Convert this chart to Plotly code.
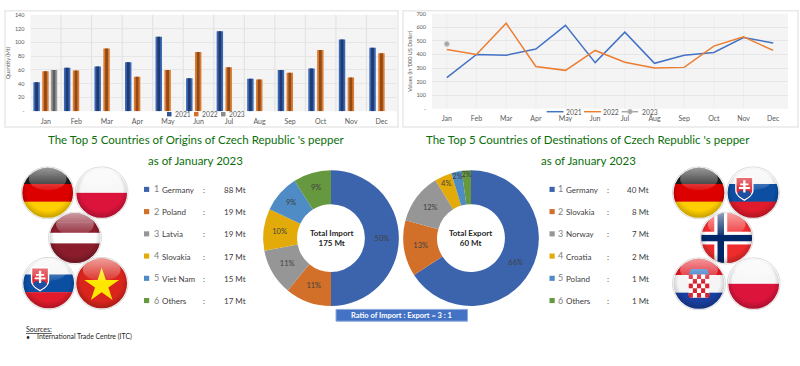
import base64
import plotly.graph_objects as go

months = ["Jan","Feb","Mar","Apr","May","Jun","Jul","Aug","Sep","Oct","Nov","Dec"]
qty_2021 = [42,63,65,71,108,48,116,47,60,62,104,92]
qty_2022 = [58,59,91,50,60,86,64,46,56,89,49,84]
qty_2023 = [60]
val_2021 = [230,400,395,440,615,340,565,335,395,415,525,485]
val_2022 = [437,400,630,312,283,430,343,300,305,462,530,430]
val_2023 = [478]
origin_names = ["Germany","Poland","Latvia","Slovakia","Viet Nam","Others"]
origin_mt = [88,19,19,17,15,17]
origin_share = [50,11,11,10,9,9]
dest_names = ["Germany","Slovakia","Norway","Croatia","Poland","Others"]
dest_mt = [40,8,7,2,1,1]
dest_share = [66,13.4,12,4.1,2.5,2.2]
dest_labels = ["66%","13%","12%","4%","2%","2%"]
origin_labels = ["50%","11%","11%","10%","9%","9%"]

W, H = 800, 366
BLUE, ORANGE, GRAY, YELLOW, LBLUE, GREEN = "#3c64ad","#d2702a","#969696","#e3ab0a","#4f8bc4","#66993f"
PIE = [BLUE, ORANGE, GRAY, YELLOW, LBLUE, GREEN]
TXT = "#595959"
FONT = "Lato, 'Open Sans', sans-serif"

def px(x): return x / W
def py(y): return 1 - y / H

fig = go.Figure()
bar_series = [("2021", qty_2021, "#3a66b5", "#1f3a6e", -0.30),
              ("2022", qty_2022, "#dc7a30", "#8f4a18", -0.01),
              ("2023", qty_2023, "#9a9a9a", "#5f5f5f", 0.27)]
for name, vals, c, d, off in bar_series:
    xs = months[:len(vals)]
    fig.add_bar(x=xs, y=vals, name=name, width=0.21, offset=off - 0.105, marker_color=c,
                marker_line_width=0, xaxis="x", yaxis="y", showlegend=False)
    fig.add_bar(x=xs, y=vals, showlegend=False, width=0.09, offset=off - 0.045, marker_color=d,
                marker_line_width=0, xaxis="x", yaxis="y", hoverinfo="skip")
fig.add_scatter(x=months, y=val_2021, name="2021", mode="lines", line=dict(color="#4472c4", width=1.5),
                xaxis="x2", yaxis="y2", showlegend=False)
fig.add_scatter(x=months, y=val_2022, name="2022", mode="lines", line=dict(color="#ed7d31", width=1.5),
                xaxis="x2", yaxis="y2", showlegend=False)
fig.add_scatter(x=months[:1], y=val_2023, name="2023", mode="lines+markers",
                line=dict(color="#a5a5a5", width=1.5), marker=dict(color="#a5a5a5", size=5, line=dict(color="#c9c9c9", width=1)),
                xaxis="x2", yaxis="y2", showlegend=False)

def donut(vals, labels, x0, x1, y0, y1):
    fig.add_pie(values=vals, text=labels, textinfo="text", sort=False, direction="clockwise", rotation=0,
                hole=0.5, marker=dict(colors=PIE, line=dict(width=0)), showlegend=False,
                textposition="inside", insidetextorientation="horizontal",
                textfont=dict(size=7.5, color="#404040", family=FONT),
                domain=dict(x=[px(x0), px(x1)], y=[py(y1), py(y0)]))
donut(origin_share, origin_labels, 262, 400, 170, 308)
donut(dest_share, dest_labels, 402, 540, 170, 308)

shapes, annos, images = [], [], []
def text(x, y, s, size=8, color=TXT, anchor="left", bold=False):
    if bold: s = f"<b>{s}</b>"
    annos.append(dict(x=px(x), y=py(y), xref="paper", yref="paper", text=s, showarrow=False,
                      xanchor=anchor, yanchor="middle", align=anchor,
                      font=dict(size=size, color=color, family=FONT), borderpad=0))
def rect(x0, y0, x1, y1, fill="rgba(0,0,0,0)", line="rgba(0,0,0,0)", w=1, layer="above"):
    shapes.append(dict(type="rect", xref="paper", yref="paper", x0=px(x0), x1=px(x1), y0=py(y0), y1=py(y1),
                       fillcolor=fill, line=dict(color=line, width=w), layer=layer))
def hline(x0, x1, y, color):
    shapes.append(dict(type="line", xref="paper", yref="paper", x0=px(x0), x1=px(x1), y0=py(y), y1=py(y),
                       line=dict(color=color, width=1.5)))

rect(5, 8, 398, 126, line="#e9e9e9", w=1.5, layer="below")
rect(403, 8, 798, 126, line="#e9e9e9", w=1.5, layer="below")

for xs_, xt, lab, col in [(167, 173.5, "2021", "#2f5597"), (194, 200.5, "2022", "#d2702a"), (221, 227.5, "2023", "#8c8c8c")]:
    rect(xs_, 110.8, xs_ + 4.5, 115.3, fill=col)
    text(xt, 113, lab, 6.8)
for x0, x1, xt, lab, col in [(546.7, 563.5, 564.5, "2021", "#4472c4"), (584, 601, 602, "2022", "#ed7d31"),
                             (621.7, 638, 640.5, "2023", "#a5a5a5")]:
    hline(x0, x1, 110.5, col)
    text(xt, 110.5, lab, 6.8)
shapes.append(dict(type="circle", xref="paper", yref="paper", x0=px(627.5), x1=px(632.5), y0=py(108), y1=py(113),
                   fillcolor="#a5a5a5", line=dict(color="#c9c9c9", width=1)))

GREEN_T = "#0b6e0b"
text(195.5, 139, "The Top 5 Countries of Origins of Czech Republic 's pepper", 11.5, GREEN_T, "center")
text(195, 160, "as of January 2023", 11.5, GREEN_T, "center")
text(588, 139, "The Top 5 Countries of Destinations of Czech Republic 's pepper", 11.5, GREEN_T, "center")
text(588, 160, "as of January 2023", 11.5, GREEN_T, "center")

def table(names, mts, xs, xn, xname, xcolon, xval):
    for i, (n, m) in enumerate(zip(names, mts)):
        y = 189.5 + i * 22.6
        rect(xs, y - 2.6, xs + 5.2, y + 2.6, fill=PIE[i])
        text(xn, y - 0.5, str(i + 1), 9, "#7f7f7f")
        text(xname, y + 0.5, n, 8, "#404040")
        text(xcolon, y + 0.5, ":", 8, "#404040", "center")
        text(xval, y + 0.5, f"{m} Mt", 8, "#404040", "right")
table(origin_names, origin_mt, 144, 152.5, 160.5, 204, 247)
table(dest_names, dest_mt, 549.5, 557, 565, 608, 650)

text(331, 239, "<b>Total Import</b><br><b>175 Mt</b>", 8, "#262626", "center")
text(470.7, 239, "<b>Total Export</b><br><b>60 Mt</b>", 8, "#262626", "center")

rect(336, 311.5, 467.5, 323.5, fill="#4472c4", line="#8faadc", w=1)
text(401.5, 317.5, "Ratio of Import : Export = 3 : 1", 7.5, "#ffffff", "center", True)

text(25, 331, "<u>Sources:</u>", 7, "#262626")
text(25, 339.5, "•", 7, "#262626")
text(36, 339.5, "International Trade Centre (ITC)", 6.9, "#262626")

GLOSS = ('<defs><clipPath id="c"><circle cx="50" cy="50" r="47"/></clipPath>'
         '<radialGradient id="s" cx="50%" cy="45%" r="55%"><stop offset="70%" stop-color="#000" stop-opacity="0"/>'
         '<stop offset="100%" stop-color="#000" stop-opacity=".28"/></radialGradient>'
         '<linearGradient id="g" x1="0" y1="0" x2="0" y2="1"><stop offset="0" stop-color="#fff" stop-opacity=".55"/>'
         '<stop offset="1" stop-color="#fff" stop-opacity=".08"/></linearGradient></defs>')
def stripes(*cols):
    n = len(cols)
    return "".join(f'<rect x="0" y="{i*100/n}" width="100" height="{100/n+.5}" fill="{c}"/>' for i, c in enumerate(cols))
def shield(cx, cy, s):
    return (f'<g transform="translate({cx},{cy}) scale({s})">'
            '<path d="M-20-24H20V6C20 18 8 24 0 30C-8 24-20 18-20 6Z" fill="#fff"/>'
            '<path d="M-17-21H17V6C17 16 7 22 0 26C-7 22-17 16-17 6Z" fill="#dc2a33"/>'
            '<path d="M-15 15C-10 4-6 6-4 9C-2 3 2 3 4 9C6 6 10 4 15 15C9 22 4 24 0 26C-4 24-9 22-15 15Z" fill="#1d4fa3"/>'
            '<path d="M-2.500-16H2.500V-9H9V-5H2.500V-1H12V3H2.500V11H-2.500V3H-12V-1H-2.500V-5H-9V-9H-2.500Z" fill="#fff"/></g>')
def checker():
    out = '<rect x="31" y="32" width="38" height="44" rx="6" fill="#fff"/>'
    for r in range(5):
        for c in range(5):
            if (r + c) % 2 == 0:
                out += f'<rect x="{31+c*7.6}" y="{32+r*8.8}" width="7.6" height="8.8" fill="#d8232f"/>'
    return out
FLAGS = {
 "de": stripes("#1a1a1a", "#dd0000", "#ffce00"),
 "pl": stripes("#f7f7f7", "#dc143c"),
 "lv": stripes("#8a1c2c", "#8a1c2c", "#ffffff", "#8a1c2c", "#8a1c2c"),
 "sk": stripes("#f5f5f5", "#0b4ea2", "#e11b2b") + shield(34, 40, 0.85),
 "vn": '<rect width="100" height="100" fill="#da251d"/><path d="M50 20L57.600 43.500H82.300L62.400 58L70 81.500L50 67L30 81.500L37.600 58L17.700 43.500H42.400Z" fill="#ffe800"/>',
 "no": '<rect width="100" height="100" fill="#ef2b2d"/><rect x="27" width="24" height="100" fill="#fff"/><rect y="38" width="100" height="24" fill="#fff"/>'
       '<rect x="33" width="12" height="100" fill="#002868"/><rect y="44" width="100" height="12" fill="#002868"/>',
 "hr": stripes("#e1141e", "#f5f5f5", "#1a3fa0") + checker() +
       '<path d="M31 32L35 22H65L69 32Z" fill="#2e76c8"/>',
}
def flag(code, cx, cy, r=27):
    svg = ('<svg xmlns="http://www.w3.org/2000/svg" width="200" height="200" viewBox="0 0 100 100">' + GLOSS +
           '<circle cx="50" cy="50" r="49" fill="#fff" stroke="#cfcfcf" stroke-width="1.500"/>'
           f'<g clip-path="url(#c)">{FLAGS[code]}<rect width="100" height="100" fill="url(#s)"/></g>'
           '<ellipse cx="50" cy="24" rx="35" ry="21" fill="url(#g)"/></svg>')
    uri = "data:image/svg+xml;base64," + base64.b64encode(svg.encode()).decode()
    images.append(dict(source=uri, xref="paper", yref="paper", x=px(cx - r), y=py(cy - r),
                       sizex=2 * r / W, sizey=2 * r / H, xanchor="left", yanchor="top",
                       sizing="stretch", layer="above"))
for code, cx, cy in [("de",47.7,193),("pl",101.7,193),("lv",75,239),("sk",48.7,285),("vn",101.7,285),
                     ("de",699,193),("sk",753,193),("no",726.7,239),("hr",699,285.5),("pl",753.7,285.5)]:
    flag(code, cx, cy)

def xa(x0, x1, standoff):
    return dict(domain=[px(x0), px(x1)], type="category", categoryorder="array", categoryarray=months,
                tickfont=dict(size=7, color=TXT, family=FONT), showgrid=False,
                showline=False, ticks="", zeroline=False, range=[-0.5, 11.5], ticklabelstandoff=standoff)
def ya(y0, y1, top, step, title):
    vals = list(range(0, top + 1, step))
    return dict(domain=[py(y1), py(y0)], range=[0, top], tickvals=vals,
                ticktext=["-"] + [str(v) for v in vals[1:]], ticklabelstandoff=5,
                tickfont=dict(size=5.5, color=TXT, family=FONT), showgrid=True, gridcolor="#e6e6e6", zeroline=False,
                title=dict(text=title, font=dict(size=5.5, color=TXT, family=FONT), standoff=3))
fig.update_layout(
    width=W, height=H, margin=dict(l=0, r=0, t=0, b=0), paper_bgcolor="#ffffff", plot_bgcolor="#f4f4f4",
    barmode="overlay", font=dict(family=FONT), shapes=shapes, annotations=annos, images=images,
    xaxis=xa(30.5, 397, 5), yaxis=ya(12, 110, 140, 20, "Quantity (Mt)"),
    xaxis2=xa(432, 788, 4), yaxis2=dict(ya(11, 107.5, 700, 100, "Values (in '000 US Dollar)"), anchor="x2"),
    uniformtext=dict(minsize=7.5, mode="show"),
)
fig.layout.xaxis2.anchor = "y2"
for i in range(1, 12):
    fig.add_shape(type="line", xref="x domain", yref="y domain", x0=i / 12, x1=i / 12, y0=0, y1=1,
                  line=dict(color="#e0e0e0", width=1), layer="below")
    fig.add_shape(type="line", xref="x2 domain", yref="y2 domain", x0=(i - 0.5) / 12, x1=(i - 0.5) / 12, y0=0, y1=1,
                  line=dict(color="#ededed", width=1), layer="below")
fig.write_html("out.html", config=dict(displayModeBar=False),
               post_script="document.body.style.margin='0';document.documentElement.style.overflow='hidden';")
